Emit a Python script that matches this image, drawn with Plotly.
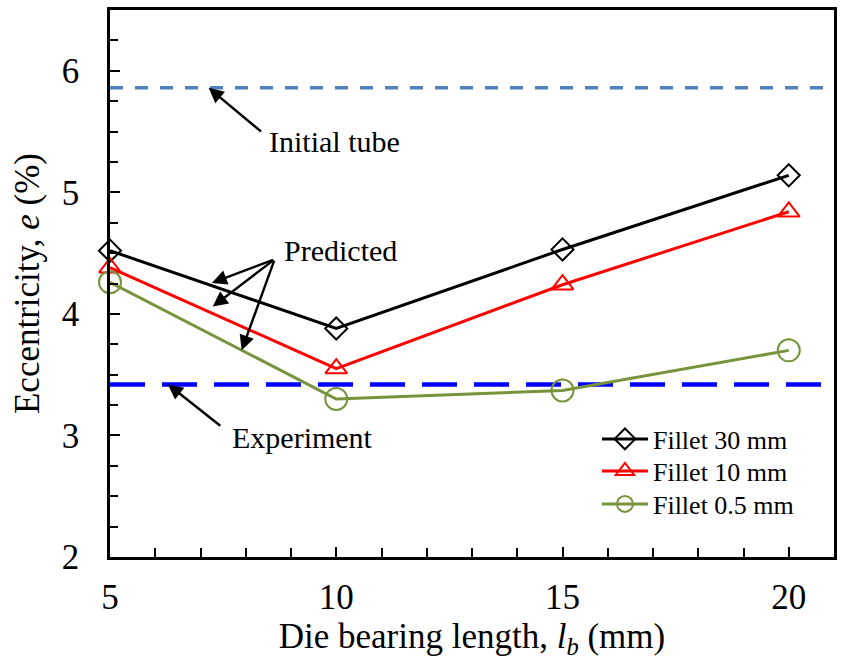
import plotly.graph_objects as go

# Die bearing length (mm)
bearing_length = [5, 10, 15, 20]

# Predicted eccentricity (%) for each die fillet radius
ecc_fillet_30 = [4.52, 3.88, 4.53, 5.14]
ecc_fillet_10 = [4.38, 3.55, 4.24, 4.84]
ecc_fillet_05 = [4.26, 3.30, 3.37, 3.70]

# Reference levels (%)
ecc_initial_tube = 5.86
ecc_experiment = 3.42

series_names = ["Fillet 30 mm", "Fillet 10 mm", "Fillet 0.5 mm"]
series_colors = ["#000000", "#FF0000", "#77933C"]
series_symbols = ["diamond-open", "triangle-up-open", "circle-open"]
series_sizes = [17, 19, 22]
legend_ids = ["legend", "legend2", "legend3"]
legend_rows = [0.2157, 0.1572, 0.0969]

FONT = "Liberation Serif, Times New Roman, serif"

fig = go.Figure()

# Horizontal reference lines across the full x range
x_span = [5, 21]
fig.add_trace(go.Scatter(
    x=x_span, y=[ecc_initial_tube] * 2, mode="lines",
    line=dict(color="#4F81BD", width=3.5, dash="13px,12px"),
    showlegend=False, hoverinfo="skip"))
fig.add_trace(go.Scatter(
    x=x_span, y=[ecc_experiment] * 2, mode="lines",
    line=dict(color="#0000FF", width=4.5, dash="35px,17px"),
    showlegend=False, hoverinfo="skip"))

for name, vals, col, sym, sz, lg in zip(series_names,
                                        [ecc_fillet_30, ecc_fillet_10, ecc_fillet_05],
                                        series_colors, series_symbols, series_sizes,
                                        legend_ids):
    fig.add_trace(go.Scatter(
        x=bearing_length, y=vals, mode="lines+markers", name=name,
        line=dict(color=col, width=3),
        marker=dict(symbol=sym, size=sz, color=col,
                    line=dict(color=col, width=2)),
        cliponaxis=False, legend=lg))

arrow = dict(xref="x", yref="y", axref="x", ayref="y", text="",
             showarrow=True, arrowhead=2, arrowsize=1.25, arrowwidth=2.4,
             arrowcolor="black", standoff=0, startstandoff=0)

# Initial tube label
fig.add_annotation(x=7.18, y=ecc_initial_tube, ax=8.37, ay=5.49, **arrow)
fig.add_annotation(x=9.96, y=5.42, text="Initial tube", showarrow=False,
                   xref="x", yref="y", font=dict(family=FONT, size=30, color="black"))

# Experiment label
fig.add_annotation(x=6.28, y=ecc_experiment, ax=7.47, ay=3.07, **arrow)
fig.add_annotation(x=9.25, y=2.98, text="Experiment", showarrow=False,
                   xref="x", yref="y", font=dict(family=FONT, size=30, color="black"))

# Predicted label with three arrows
for tx, ty in [(7.25, 4.255), (7.27, 4.06), (7.91, 3.70)]:
    fig.add_annotation(x=tx, y=ty, ax=8.64, ay=4.45, **arrow)
fig.add_annotation(x=10.09, y=4.52, text="Predicted", showarrow=False,
                   xref="x", yref="y", font=dict(family=FONT, size=30, color="black"))

legend_style = dict(x=0.6726, xanchor="left", yanchor="middle",
                    bgcolor="rgba(0,0,0,0)", font=dict(family=FONT, size=26),
                    itemwidth=46)
legends = {lg: dict(y=yy, **legend_style) for lg, yy in zip(legend_ids, legend_rows)}

fig.update_layout(
    width=841, height=660,
    margin=dict(l=110, r=4, t=10, b=103),
    paper_bgcolor="white", plot_bgcolor="white",
    font=dict(family=FONT, size=35, color="black"),
    showlegend=True,
    **legends,
)

fig.update_xaxes(
    range=[5, 21], tick0=5, dtick=5, ticks="inside", ticklen=10, tickwidth=2,
    tickcolor="black", showline=True, linewidth=2.5, linecolor="black",
    mirror=True, showgrid=False, zeroline=False, ticklabelstandoff=7,
    tickfont=dict(family=FONT, size=35, color="black"),
    minor=dict(dtick=1, tick0=5, ticks="inside", ticklen=9, tickwidth=2, tickcolor="black"),
    title=dict(text="Die bearing length, <i>l</i><sub><i>b</i></sub> (mm)",
               font=dict(family=FONT, size=35), standoff=2),
)
fig.update_yaxes(
    range=[2, 6.5], tick0=2, dtick=1, ticks="inside", ticklen=10, tickwidth=2,
    tickcolor="black", showline=True, linewidth=2.5, linecolor="black",
    mirror=True, showgrid=False, zeroline=False, ticklabelstandoff=21,
    tickfont=dict(family=FONT, size=35, color="black"),
    minor=dict(dtick=0.25, tick0=2, ticks="inside", ticklen=8, tickwidth=2, tickcolor="black"),
    title=dict(text="Eccentricity, <i>e</i> (%)",
               font=dict(family=FONT, size=35), standoff=12),
)

fig.write_html("out.html")
